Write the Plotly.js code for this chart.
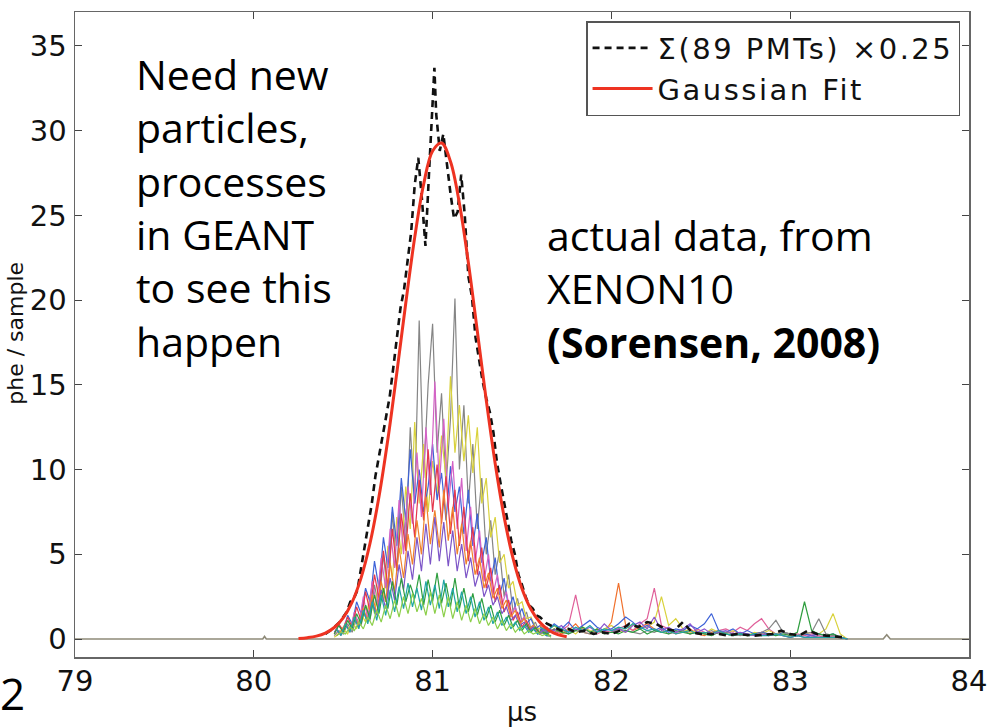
<!DOCTYPE html>
<html><head><meta charset="utf-8">
<script src="https://cdn.plot.ly/plotly-3.0.1.min.js"></script>
<style>html,body{margin:0;padding:0;background:#fff}#chart{width:990px;height:727px}.legendtext{letter-spacing:2.5px}</style>
</head><body><div id="chart"></div>
<script>
// sample times for the per-PMT traces around the pulse (µs); two interleaved grids
const t = [80.45,80.475,80.5,80.525,80.55,80.575,80.6,80.625,80.65,80.675,80.7,80.725,80.75,80.775,80.8,80.825,80.85,80.875,80.9,80.925,80.95,80.975,81,81.025,81.05,81.075,81.1,81.125,81.15,81.175,81.2,81.225,81.25,81.275,81.3,81.325,81.35,81.375,81.4,81.425,81.45,81.475,81.5,81.525,81.55,81.575,81.6,81.625,81.65];
const t2 = [80.4625,80.4875,80.5125,80.5375,80.5625,80.5875,80.6125,80.6375,80.6625,80.6875,80.7125,80.7375,80.7625,80.7875,80.8125,80.8375,80.8625,80.8875,80.9125,80.9375,80.9625,80.9875,81.0125,81.0375,81.0625,81.0875,81.1125,81.1375,81.1625,81.1875,81.2125,81.2375,81.2625,81.2875,81.3125,81.3375,81.3625,81.3875,81.4125,81.4375,81.4625,81.4875,81.5125,81.5375,81.5625,81.5875,81.6125,81.6375,81.6625];
const pmtGray   = [0.2,0.5,0.3,0.9,0.4,1.2,0.8,2.0,1.1,3.2,1.8,5.0,2.4,7.5,4.0,9.0,5.5,12.5,8.0,18.8,9.5,15.0,18.6,11.0,14.5,9.0,13.0,20.1,10.0,13.8,8.0,11.5,6.5,9.5,5.0,7.0,3.8,5.2,2.5,3.8,1.6,2.4,1.0,1.6,0.6,1.0,0.3,0.6,0.2];
const pmtYellow = [0.1,0.3,0.6,0.3,1.0,0.6,1.5,1.0,2.6,1.5,3.5,2.2,5.5,3.5,7.2,5.0,9.0,6.5,12.8,8.0,11.5,7.5,10.5,8.5,12.0,9.5,15.5,11.0,13.8,10.5,13.2,9.8,12.5,8.0,9.5,6.0,7.2,4.5,5.0,3.0,3.4,2.0,2.2,1.2,1.3,0.7,0.6,0.3,0.2];
const pmtBlue   = [0.4,0.8,0.5,1.4,0.9,2.2,1.5,3.0,2.2,4.6,3.0,6.0,4.2,7.8,5.5,9.5,7.0,11.2,8.0,10.0,7.5,9.0,11.5,8.2,9.8,7.0,10.2,7.5,9.0,6.2,8.8,5.5,7.4,4.5,6.0,3.4,4.8,2.6,3.6,1.8,2.5,1.3,1.8,0.9,1.2,0.6,0.8,0.4,0.3];
const pmtPink   = [0.6,0.2,1.0,0.4,1.6,0.8,2.5,1.2,3.4,2.0,4.8,3.0,6.5,4.2,8.2,5.0,9.0,6.8,11.0,7.2,12.5,8.5,15.2,9.0,13.0,7.8,10.5,6.5,9.5,5.2,7.8,4.5,6.4,3.4,5.0,2.6,3.8,2.0,2.8,1.4,1.9,1.0,1.3,0.6,0.8,0.4,0.5,0.2,0.2];
const pmtRed    = [0.3,0.9,0.5,1.3,0.7,1.9,1.1,2.8,1.6,3.8,2.4,5.2,3.1,6.5,4.0,7.4,5.2,8.6,6.0,9.4,7.0,11.2,7.5,10.3,6.8,9.6,6.2,8.8,5.5,7.8,4.6,6.6,3.8,5.4,3.0,4.2,2.2,3.2,1.6,2.3,1.1,1.6,0.7,1.1,0.5,0.7,0.3,0.4,0.2];
const pmtOrange = [0.2,0.5,0.9,0.5,1.3,0.8,1.8,1.1,2.6,1.5,3.4,2.2,4.5,2.8,5.4,3.6,6.2,4.4,7.0,5.0,8.4,5.6,7.6,5.4,8.8,5.8,7.8,5.0,6.8,4.4,5.8,3.8,4.8,3.0,3.9,2.4,3.0,1.8,2.3,1.3,1.7,0.9,1.2,0.6,0.8,0.4,0.5,0.3,0.2];
const pmtPurple = [0.5,0.3,0.8,0.5,1.2,0.7,1.6,1.0,2.2,1.4,2.9,1.8,3.6,2.3,4.4,2.9,5.2,3.5,6.0,4.0,6.8,4.4,7.2,4.6,6.9,4.3,6.4,4.0,5.6,3.6,4.8,3.1,4.0,2.5,3.2,2.0,2.5,1.5,1.9,1.1,1.4,0.8,1.0,0.5,0.7,0.3,0.4,0.2,0.2];
const pmtGreen  = [0.3,0.8,0.4,1.1,0.6,1.5,0.9,2.0,1.2,2.6,1.5,3.0,1.8,3.4,2.0,3.6,2.2,3.2,2.4,3.8,2.0,3.5,2.2,3.9,2.1,3.3,1.9,3.6,1.8,3.0,1.6,2.7,1.4,2.4,1.2,2.0,1.0,1.7,0.8,1.4,0.7,1.1,0.5,0.9,0.4,0.7,0.3,0.5,0.2];
const pmtTeal   = [0.6,0.2,0.9,0.4,1.3,0.6,1.7,0.9,2.2,1.1,2.6,1.4,2.9,1.6,3.1,1.8,3.3,1.9,3.0,1.7,3.4,2.0,3.2,1.8,3.5,1.9,3.0,1.6,2.8,1.5,2.5,1.3,2.2,1.1,1.9,0.9,1.6,0.8,1.3,0.6,1.0,0.5,0.8,0.4,0.6,0.3,0.4,0.2,0.2];
const pmtLime   = [0.2,0.4,0.3,0.7,0.5,1.0,0.6,1.3,0.8,1.7,1.0,2.0,1.2,2.3,1.3,2.5,1.5,2.7,1.6,2.4,1.4,2.8,1.5,2.6,1.3,2.5,1.2,2.2,1.1,2.0,1.0,1.8,0.9,1.5,0.8,1.3,0.6,1.1,0.5,0.9,0.4,0.7,0.3,0.5,0.3,0.4,0.2,0.3,0.1];

// late-time (afterpulse) sample times and PMT values
const tTail = [81.6,81.64,81.68,81.72,81.76,81.8,81.84,81.88,81.92,81.96,82,82.04,82.08,82.12,82.16,82.2,82.24,82.28,82.32,82.36,82.4,82.44,82.48,82.52,82.56,82.6,82.64,82.68,82.72,82.76,82.8,82.84,82.88,82.92,82.96,83,83.04,83.08,83.12,83.16,83.2,83.24,83.28,83.32];
const tailOrange = [0.8,0.4,0.6,0.3,0.5,0.9,0.4,0.3,0.6,0.4,1.0,3.3,0.8,0.5,0.7,0.9,0.6,0.4,0.5,0.3,0.4,0.6,0.3,0.2,0.4,0.5,0.3,0.2,0.3,0.2,0.3,0.4,0.2,0.3,0.2,0.1,0.2,0.3,0.2,0.1,0.2,0.1,0.1,0];
const tailPink   = [0.5,0.7,0.3,0.5,0.8,2.6,0.6,0.4,0.3,0.5,0.4,0.6,0.8,0.5,0.9,1.2,3.0,0.8,0.6,0.4,0.5,0.3,0.6,0.4,0.3,0.5,0.6,0.4,0.7,0.5,0.9,1.2,0.6,0.3,0.4,0.2,0.3,0.2,0.3,0.2,0.1,0.2,0.1,0];
const tailYellow = [0.3,0.5,0.8,0.4,0.6,0.3,0.7,0.5,0.4,0.6,0.8,0.5,0.4,0.9,0.6,0.7,1.0,2.5,0.8,1.2,0.6,0.4,0.5,0.3,0.6,0.4,0.3,0.5,0.3,0.2,0.4,0.3,0.5,0.3,0.4,0.3,0.2,0.3,0.4,0.3,0.6,1.5,0.3,0];
const tailBlue   = [0.6,0.4,0.9,0.6,1.0,0.5,0.8,1.1,0.7,0.5,0.6,0.9,1.3,1.0,0.6,0.8,0.5,0.7,0.4,0.6,0.5,0.8,0.6,0.9,1.5,0.5,0.4,0.6,0.3,0.5,0.3,0.4,0.3,0.2,0.4,0.3,0.2,0.3,0.2,0.3,0.2,0.3,0.1,0];
const tailGray   = [0.3,0.5,0.4,0.6,0.3,0.5,0.4,0.3,0.5,0.3,0.4,0.6,0.5,0.4,0.3,0.5,0.4,0.6,0.3,0.4,0.5,0.3,0.4,0.3,0.5,0.3,0.4,0.3,0.2,0.3,0.2,0.4,0.6,1.1,0.4,0.3,0.2,0.3,0.4,1.2,0.3,0.2,0.1,0];
const tailGreen  = [0.5,0.3,0.6,0.4,0.3,0.5,0.7,0.4,0.6,0.3,0.4,0.3,0.5,0.4,0.6,0.3,0.5,0.4,0.3,0.5,0.4,0.3,0.4,0.3,0.2,0.4,0.3,0.2,0.3,0.2,0.3,0.2,0.3,0.2,0.3,0.2,0.4,2.2,0.5,0.3,0.2,0.3,0.1,0];
const tailPurple = [0.4,0.6,0.5,0.8,0.4,0.6,0.5,0.7,0.4,0.9,0.5,0.6,0.4,0.8,1.0,0.6,1.3,0.5,0.7,0.4,0.6,0.9,0.4,0.6,0.3,0.4,0.5,0.3,0.4,0.3,0.2,0.3,0.2,0.3,0.2,0.1,0.2,0.1,0.2,0.1,0.1,0.1,0.1,0];
const tailTeal   = [0.7,0.5,0.8,0.6,0.4,0.7,0.5,0.8,0.4,0.6,0.5,0.7,0.6,0.9,0.7,0.5,0.6,0.4,0.5,0.3,0.4,0.5,0.3,0.4,0.3,0.5,0.3,0.2,0.3,0.2,0.3,0.2,0.2,0.3,0.2,0.1,0.2,0.1,0.1,0.1,0.1,0.1,0.1,0];

// baseline
const baseT = [79,80.05,80.06,80.07,83.52,83.54,83.56,84];
const baseY = [0,0,0.15,0,0,0.25,0,0];

// summed signal of 89 PMTs x0.25
const sumT = [80.40,80.44,80.48,80.50,80.52,80.54,80.56,80.58,80.60,80.62,80.64,80.66,80.68,80.70,80.72,80.74,80.76,80.78,80.80,80.82,80.84,80.86,80.88,80.90,80.92,80.94,80.96,80.98,81.00,81.01,81.02,81.04,81.06,81.08,81.10,81.12,81.14,81.16,81.18,81.20,81.22,81.24,81.26,81.28,81.30,81.32,81.34,81.36,81.38,81.40,81.42,81.44,81.46,81.48,81.50,81.52,81.54,81.56,81.58,81.60,81.64,81.68,81.72,81.76,81.80,81.85,81.90,81.95,82.00,82.05,82.10,82.15,82.20,82.25,82.30,82.35,82.40,82.45,82.50,82.55,82.60,82.65,82.70,82.80,82.90,82.95,83.00,83.05,83.10,83.15,83.20,83.30];
const sumY = [0.3,0.6,1.0,1.3,1.6,2.2,2.4,2.9,4.2,5.6,6.8,8.0,9.6,10.8,12.0,13.2,14.3,16.0,17.9,19.5,20.6,22.4,24.0,26.8,28.4,26.0,23.2,27.5,31.8,33.7,31.0,28.8,29.8,28.0,26.3,24.8,25.2,27.4,25.0,21.4,20.2,17.8,16.4,15.2,14.2,13.4,12.2,10.4,9.2,8.0,7.0,5.8,5.0,3.8,3.2,2.5,2.0,1.8,1.4,1.3,0.9,0.7,0.5,0.6,0.4,0.5,0.3,0.4,0.3,0.5,0.9,0.7,1.0,0.9,0.6,0.5,1.0,0.4,0.3,0.3,0.3,0.2,0.3,0.2,0.3,0.5,0.3,0.2,0.5,0.3,0.2,0.1];

// Gaussian fit curve
const fitT = [80.25,80.30,80.35,80.40,80.45,80.50,80.55,80.60,80.65,80.70,80.75,80.80,80.85,80.90,80.95,81.00,81.05,81.10,81.15,81.20,81.25,81.30,81.35,81.40,81.45,81.50,81.55,81.60,81.65,81.70,81.75];
const fitY = [0.03,0.08,0.17,0.35,0.68,1.25,2.18,3.61,5.65,8.39,11.80,15.72,19.83,23.70,26.84,28.80,29.27,28.18,25.70,22.21,18.18,14.10,10.36,7.21,4.76,2.97,1.76,0.99,0.52,0.26,0.13];

const xTicks = [79,80,81,82,83,84];
const yTicks = [0,5,10,15,20,25,30,35];
const sumName = 'Σ(89 PMTs) ×0.25';
const fitName = 'Gaussian Fit';

function pmt(x, y, color) {
  return {x: x, y: y, type: 'scatter', mode: 'lines', line: {color: color, width: 1.2},
          showlegend: false, hoverinfo: 'skip'};
}

const traces = [
  Object.assign(pmt(baseT, baseY, '#8e8a78'), {line: {color: '#8e8a78', width: 1.6}}),
  pmt(t, pmtGray, '#858585'),
  pmt(t, pmtYellow, '#d9d23c'),
  pmt(t, pmtBlue, '#3d62d8'),
  pmt(t2, pmtPink, '#d462c6'),
  pmt(t, pmtRed, '#e4374c'),
  pmt(t2, pmtOrange, '#f0822c'),
  pmt(t2, pmtPurple, '#7d55c7'),
  pmt(t, pmtGreen, '#2f9e3f'),
  pmt(t2, pmtTeal, '#20a5a5'),
  pmt(t2, pmtLime, '#8ccf4a'),
  pmt(tTail, tailOrange, '#f0702c'),
  pmt(tTail, tailPink, '#e0609a'),
  pmt(tTail, tailYellow, '#d9d23c'),
  pmt(tTail, tailBlue, '#3d62d8'),
  pmt(tTail, tailGray, '#858585'),
  pmt(tTail, tailGreen, '#2f9e3f'),
  pmt(tTail, tailPurple, '#8a55d0'),
  pmt(tTail, tailTeal, '#20a5a5'),
  {x: sumT, y: sumY, type: 'scatter', mode: 'lines', name: sumName,
   line: {color: '#111', width: 2.6, dash: '7px,5px'}},
  {x: fitT, y: fitY, type: 'scatter', mode: 'lines', name: fitName,
   line: {color: '#ee3322', width: 3, shape: 'spline'}}
];

const tickFont = {family: 'DejaVu Sans, Arial, sans-serif', size: 29, color: '#111'};
const layout = {
  width: 990, height: 727,
  margin: {l: 75, r: 21, t: 12, b: 70, pad: 0},
  paper_bgcolor: '#fff', plot_bgcolor: '#fff',
  showlegend: true,
  legend: {x: 0.99, xanchor: 'right', y: 0.986, yanchor: 'top',
           bgcolor: '#fff', bordercolor: '#555', borderwidth: 1.5,
           font: {family: 'DejaVu Sans, Arial, sans-serif', size: 29, color: '#111'},
           itemwidth: 60, tracegroupgap: 0},
  xaxis: {range: [79, 84], tickvals: xTicks, ticktext: xTicks.map(String),
          ticks: 'inside', ticklen: 7, tickcolor: '#444', tickwidth: 1,
          showline: true, linecolor: '#666', linewidth: 1.5, mirror: 'ticks',
          showgrid: false, zeroline: false, tickfont: tickFont, ticklabelstandoff: -2,
          title: {text: 'µs', font: {family: 'DejaVu Sans, Arial, sans-serif', size: 26, color: '#111'}, standoff: 14}},
  yaxis: {range: [-1.06, 37.0], tickvals: yTicks, ticktext: yTicks.map(String),
          ticks: 'inside', ticklen: 7, tickcolor: '#444', tickwidth: 1,
          showline: true, linecolor: '#666', linewidth: 1.5, mirror: 'ticks',
          showgrid: false, zeroline: false, tickfont: tickFont, ticklabelstandoff: 1},
  annotations: [
    {text: 'Need new<br>particles,<br>processes<br>in GEANT<br>to see this<br>happen',
     xref: 'paper', yref: 'paper', x: 0.066, y: 0.697, xanchor: 'left', yanchor: 'middle',
     align: 'left', showarrow: false, font: {family: 'Open Sans, sans-serif', size: 41, color: '#000'}},
    {text: 'actual data, from<br>XENON10<br><b>(Sorensen, 2008)</b>',
     xref: 'paper', yref: 'paper', x: 0.5257, y: 0.572, xanchor: 'left', yanchor: 'middle',
     align: 'left', showarrow: false, font: {family: 'Open Sans, sans-serif', size: 41, color: '#000'}},
    {text: 'phe / sample', textangle: -90,
     xref: 'paper', yref: 'paper', x: -0.0503, y: 0.502, xanchor: 'right', yanchor: 'middle',
     showarrow: false, font: {family: 'DejaVu Sans, Arial, sans-serif', size: 22, color: '#111'}},
    {text: '2', xref: 'paper', yref: 'paper', x: -0.0861, y: -0.0558, xanchor: 'left', yanchor: 'middle',
     showarrow: false, font: {family: 'Open Sans, sans-serif', size: 44, color: '#000'}}
  ]
};

Plotly.newPlot('chart', traces, layout, {displayModeBar: false, staticPlot: true});
</script></body></html>
